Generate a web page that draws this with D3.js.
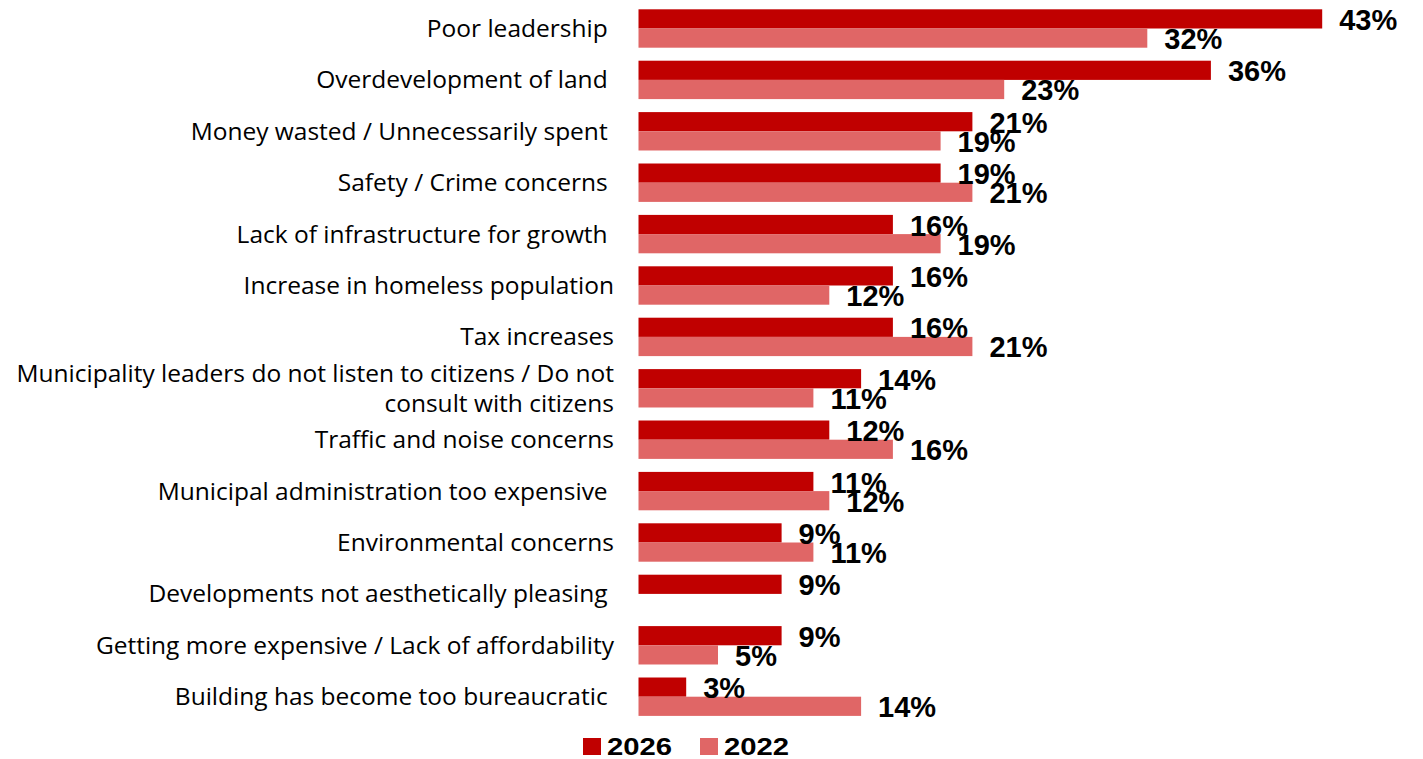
<!DOCTYPE html>
<html>
<head>
<meta charset="utf-8">
<script src="https://cdn.jsdelivr.net/npm/d3@7"></script>
<style>
  html, body { margin: 0; padding: 0; background: #fff; }
  svg { display: block; }
  .cat { font-family: "Open Sans", "Noto Sans", sans-serif; font-size: 24.5px; fill: #000; white-space: pre; }
  .val { font-family: "Liberation Sans", Arial, sans-serif; font-weight: bold; font-size: 29px; fill: #000; }
  .leg { font-family: "Liberation Sans", Arial, sans-serif; font-weight: bold; font-size: 24px; fill: #000; }
</style>
</head>
<body>
<svg id="chart" width="1423" height="759"></svg>
<script>
// Reasons cited, share of respondents (%) by survey year
const categories = [
  "Poor leadership ",
  "Overdevelopment of land ",
  "Money wasted / Unnecessarily spent ",
  "Safety / Crime concerns ",
  "Lack of infrastructure for growth ",
  "Increase in homeless population",
  "Tax increases",
  "Municipality leaders do not listen to citizens / Do not consult with citizens",
  "Traffic and noise concerns",
  "Municipal administration too expensive ",
  "Environmental concerns",
  "Developments not aesthetically pleasing ",
  "Getting more expensive / Lack of affordability",
  "Building has become too bureaucratic "
];
const series = ["2026", "2022"];
const values2026 = [43, 36, 21, 19, 16, 16, 16, 14, 12, 11, 9, 9, 9, 3];
const values2022 = [32, 23, 19, 21, 19, 12, 21, 11, 16, 12, 11, null, 5, 14];
const colors = ["#C00000", "#E06666"];

const svg = d3.select("#chart");

const x = d3.scaleLinear().domain([0, 43]).range([638.5, 1322.2]);
const y = d3.scaleBand().domain(categories).range([2.8, 722.4])
  .paddingInner(0.253).paddingOuter(0.1265);
const ySub = d3.scaleBand().domain(series).range([0, y.bandwidth()]);
const color = d3.scaleOrdinal().domain(series).range(colors);

const rows = categories.map((c, i) => ({
  cat: c,
  bars: [
    { s: "2026", v: values2026[i] },
    { s: "2022", v: values2022[i] }
  ].filter(d => d.v != null)
}));

const row = svg.selectAll("g.row").data(rows).join("g")
  .attr("class", "row")
  .attr("transform", d => `translate(0,${y(d.cat)})`);

row.selectAll("rect").data(d => d.bars).join("rect")
  .attr("x", x(0))
  .attr("y", d => ySub(d.s))
  .attr("width", d => x(d.v) - x(0))
  .attr("height", ySub.bandwidth())
  .attr("fill", d => color(d.s));

row.selectAll("text.val").data(d => d.bars).join("text")
  .attr("class", "val")
  .attr("x", d => x(d.v) + 17)
  .attr("y", d => ySub(d.s) + ySub.bandwidth() / 2 + 1)
  .attr("dominant-baseline", "central")
  .text(d => d.v + "%");

// Category labels, right-aligned against the bars, wrapped when too long
const labelRight = 614;
const maxLabelWidth = 612;
const lineHeight = 30;
row.each(function (d) {
  const g = d3.select(this);
  const t = g.append("text").attr("class", "cat")
    .attr("text-anchor", "end")
    .attr("x", labelRight);
  const words = d.cat.split(" ");
  const lines = [];
  let cur = [];
  const probe = t.append("tspan");
  words.forEach(w => {
    const trial = cur.concat([w]).join(" ");
    probe.text(trial);
    if (probe.node().getComputedTextLength() > maxLabelWidth && cur.length) {
      lines.push(cur.join(" "));
      cur = [w];
    } else {
      cur.push(w);
    }
  });
  lines.push(cur.join(" "));
  probe.remove();
  const mid = y.bandwidth() / 2 - 1;
  const first = mid - (lines.length - 1) * lineHeight / 2;
  lines.forEach((ln, k) => {
    t.append("tspan")
      .attr("x", labelRight)
      .attr("y", first + k * lineHeight)
      .attr("dominant-baseline", "central")
      .text(ln);
  });
});

// Legend
const legend = svg.append("g").attr("transform", "translate(583,738)");
const legX = d3.scalePoint().domain(series).range([0, 117]);
const item = legend.selectAll("g").data(series).join("g")
  .attr("transform", s => `translate(${legX(s)},0)`);
item.append("rect").attr("width", 18).attr("height", 17).attr("fill", s => color(s));
item.append("text").attr("class", "leg")
  .attr("transform", "translate(24,17) scale(1.22,1)")
  .text(s => s);
</script>
</body>
</html>
